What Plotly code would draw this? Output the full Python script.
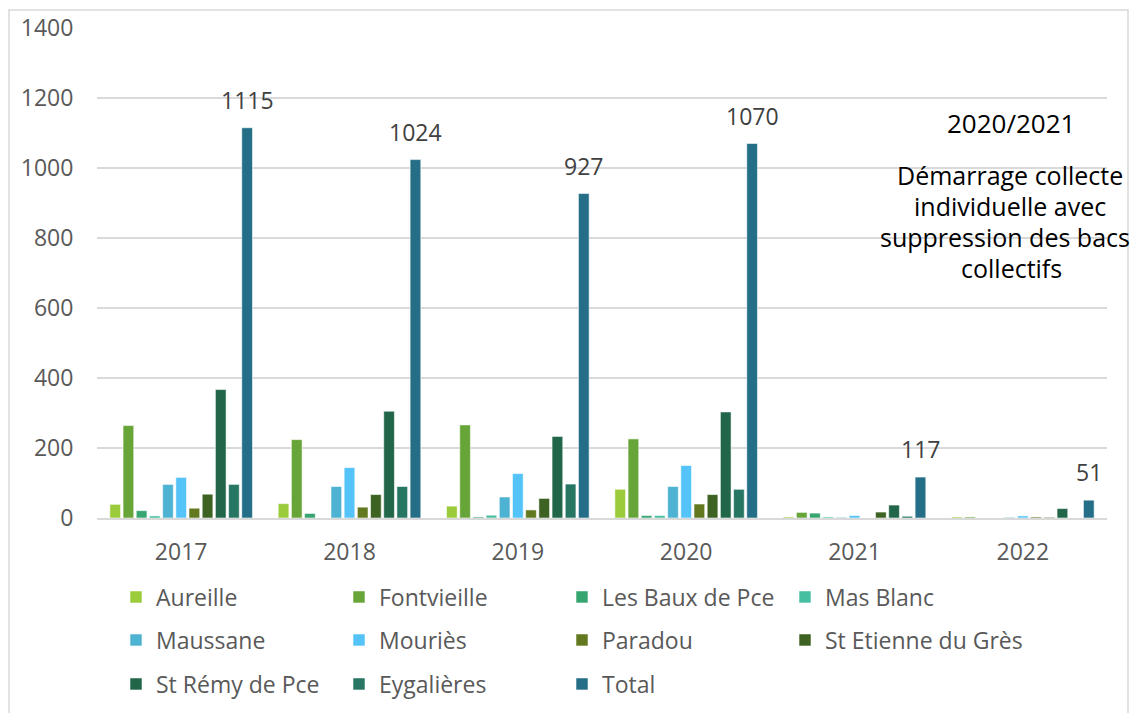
import plotly.graph_objects as go

# --- data ---
years = ["2017", "2018", "2019", "2020", "2021", "2022"]
aureille = [39, 41, 34, 82, 3, 3]
fontvieille = [264, 224, 266, 226, 16, 3]
les_baux = [21, 13, 3, 7, 14, 0]
mas_blanc = [6, 0, 8, 7, 3, 0]
maussane = [96, 90, 60, 90, 2, 2]
mouries = [116, 144, 127, 150, 7, 6]
paradou = [28, 31, 23, 40, 0, 3]
st_etienne = [68, 67, 56, 67, 17, 2]
st_remy = [367, 305, 233, 303, 37, 27]
eygalieres = [96, 90, 97, 82, 5, 0]
total = [1115, 1024, 927, 1070, 117, 51]

note_title = "2020/2021"
note_lines = ["Démarrage collecte", "individuelle avec", "suppression des bacs", "collectifs"]

FONT = "Open Sans"
TXT = "#595959"
FS = 23

series = [
    ("Aureille", aureille, "#9BCB3A", "legend"),
    ("Fontvieille", fontvieille, "#67A539", "legend"),
    ("Les Baux de Pce", les_baux, "#36A56F", "legend"),
    ("Mas Blanc", mas_blanc, "#45BFA0", "legend"),
    ("Maussane", maussane, "#4EB3D2", "legend2"),
    ("Mouriès", mouries, "#54C4F8", "legend2"),
    ("Paradou", paradou, "#62791F", "legend2"),
    ("St Etienne du Grès", st_etienne, "#3D6222", "legend2"),
    ("St Rémy de Pce", st_remy, "#216649", "legend3"),
    ("Eygalières", eygalieres, "#277563", "legend3"),
    ("Total", total, "#246F87", "legend3"),
]

fig = go.Figure()
for name, vals, color, leg in series:
    fig.add_trace(go.Bar(
        x=years, y=vals, name=name, legend=leg,
        # last legend column needs more room than the fixed entry width
        legendwidth=240 if name == "St Etienne du Grès" else None,
        marker=dict(color=color, line=dict(color="rgba(255,255,255,0.55)", width=1)),
    ))

# total labels above the Total bars (category index, since "2017" would be read as a number)
for i, v in enumerate(total):
    fig.add_annotation(x=i, y=v, xref="x", yref="y", text=str(v), showarrow=False,
                       xshift=66, yshift=10, yanchor="bottom",
                       font=dict(family=FONT, size=FS, color="#404040"))

# page has an 8px body margin, so the figure starts at screen (8, 8);
# helpers below take screen pixels (plot area is 97..1107 x 28..518 on screen)
def px_x(px):
    return (px - 97) / 1010

def px_y(py):
    return (518 - py) / 490

fig.add_annotation(x=px_x(1011), y=px_y(123), xref="paper", yref="paper", text=note_title,
                   showarrow=False, xanchor="center", yanchor="middle",
                   font=dict(family=FONT, size=26, color="#000000"))
line_cx = [1010, 1010, 1005, 1011]
for i, line in enumerate(note_lines):
    fig.add_annotation(x=px_x(line_cx[i]), y=px_y(175 + 31 * i), xref="paper", yref="paper",
                       text=line, showarrow=False, xanchor="center", yanchor="middle",
                       font=dict(family=FONT, size=25, color="#000000"))

# chart frame
fig.add_shape(type="rect", xref="paper", yref="paper",
              x0=px_x(9), x1=px_x(1128), y0=px_y(740), y1=px_y(10),
              line=dict(color="#D9D9D9", width=1.5), layer="below")

leg_common = dict(orientation="h", xanchor="left", yanchor="middle", x=px_x(96),
                  borderwidth=20, bordercolor="rgba(0,0,0,0)", bgcolor="rgba(0,0,0,0)",
                  entrywidth=178, entrywidthmode="pixels",
                  font=dict(family=FONT, size=FS, color=TXT))

fig.update_layout(
    width=1136, height=705,
    margin=dict(l=89, r=37, t=20, b=195, autoexpand=False),
    paper_bgcolor="white", plot_bgcolor="white",
    font=dict(family=FONT, size=FS, color=TXT),
    barmode="group", bargap=0.138, bargroupgap=0.19,
    showlegend=True,
    legend=dict(leg_common, y=px_y(597)),
    legend2=dict(leg_common, y=px_y(640)),
    legend3=dict(leg_common, y=px_y(684)),
)
fig.update_xaxes(type="category", range=[-0.5, 5.5], autorange=False,
                 showgrid=False, showline=True, linecolor="#D9D9D9", linewidth=2,
                 ticks="outside", ticklen=12, tickcolor="rgba(0,0,0,0)",
                 tickfont=dict(family=FONT, size=FS, color=TXT))
fig.update_yaxes(range=[0, 1400], dtick=200, showgrid=True, gridcolor="#D9D9D9", gridwidth=1.5,
                 zeroline=False, showline=False, ticks="outside", ticklen=18,
                 tickcolor="rgba(0,0,0,0)",
                 tickfont=dict(family=FONT, size=FS, color=TXT))

fig.write_html("out.html")
